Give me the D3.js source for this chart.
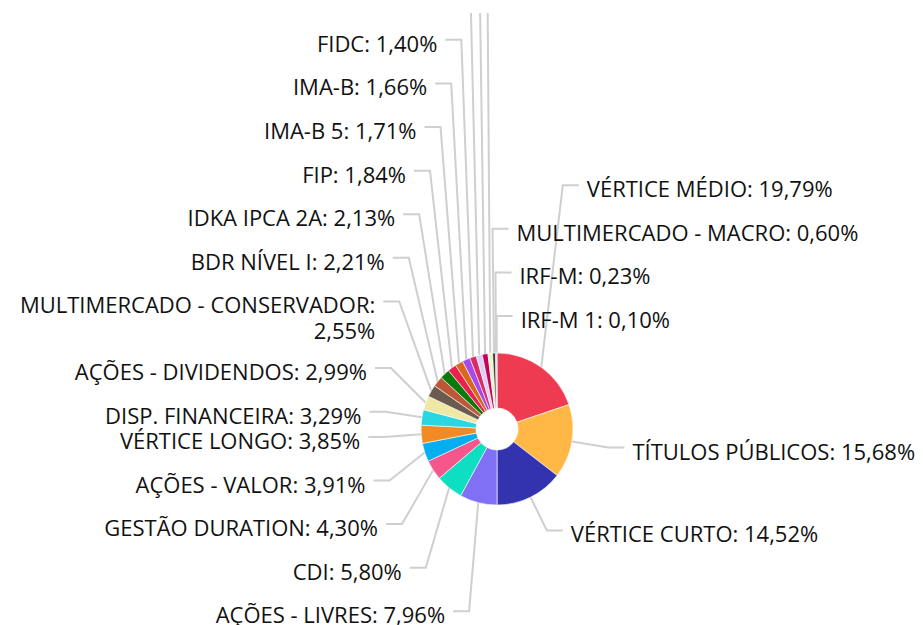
<!DOCTYPE html>
<html><head><meta charset="utf-8">
<script src="https://cdn.jsdelivr.net/npm/d3@7"></script>
<style>body{margin:0;background:#fff} svg{display:block}</style>
</head><body><svg id="chart" width="923" height="625"></svg>
<script>
const categories = ["VÉRTICE MÉDIO","TÍTULOS PÚBLICOS","VÉRTICE CURTO","AÇÕES - LIVRES","CDI","GESTÃO DURATION","AÇÕES - VALOR","VÉRTICE LONGO","DISP. FINANCEIRA","AÇÕES - DIVIDENDOS","MULTIMERCADO - CONSERVADOR","BDR NÍVEL I","IDKA IPCA 2A","FIP","IMA-B 5","IMA-B","FIDC","IMA-GERAL","IRF-M 1+","IDKA IPCA 5A","MULTIMERCADO - MACRO","IRF-M","IRF-M 1"];
const values = [19.79,15.68,14.52,7.96,5.80,4.30,3.91,3.85,3.29,2.99,2.55,2.21,2.13,1.84,1.71,1.66,1.40,1.30,1.20,0.98,0.60,0.23,0.10];
const colors = ["#EE3B52","#FFB845","#3333B0","#8070F5","#0EDEC2","#F5568C","#04AEEF","#F28B26","#2BD6E3","#EDE8A6","#6B5A4E","#BE5738","#0A7A0A","#E8214F","#D8691C","#A64AE8","#D92B67","#DCD0F5","#C4005A","#E8F5C8","#4B3232","#1BA0A0","#2A6FD8"];

const W = 923, H = 625;
const cx = 497, cy = 429, R = 76, r0 = 21;
const L = 113, seg = 16, gap = 8;
const boxH = 43.6, lineStep = 23, textLH = 26, baseOff = 12;
const plotTop = 13, fontSize = 22, topSnap = 0.06;

const data = categories.map((c, i) => ({name: c, value: values[i], color: colors[i]}));
const fmt = v => d3.format(".2f")(v).replace(".", ",") + "%";

const svg = d3.select("#chart");
svg.append("rect").attr("width", W).attr("height", H).attr("fill", "#fff");
svg.append("defs").append("clipPath").attr("id", "plot")
  .append("rect").attr("x", 0).attr("y", plotTop).attr("width", W).attr("height", H - plotTop);

const pie = d3.pie().sort(null).value(d => d.value);
const arcs = pie(data);
const arc = d3.arc().innerRadius(r0).outerRadius(R);

const lineG = svg.append("g").attr("clip-path", "url(#plot)");
const sliceG = svg.append("g").attr("transform", `translate(${cx},${cy})`);
const textG = svg.append("g")
  .attr("font-family", "'Open Sans', sans-serif").attr("font-size", fontSize).attr("fill", "#111");

sliceG.selectAll("path").data(arcs).join("path")
  .attr("d", arc).attr("fill", d => d.data.color)
  .attr("stroke", "#fff").attr("stroke-width", 0.6);

// measurement helper
const meas = textG.append("text").attr("visibility", "hidden");
const width = s => { meas.text(s); return meas.node().getComputedTextLength(); };

const labels = arcs.map(a => {
  const t = (a.startAngle + a.endAngle) / 2;
  const side = Math.sin(t) > -topSnap ? 1 : -1;
  const bx = cx + L * Math.sin(t);
  const natY = cy - L * Math.cos(t);
  const ex = cx + R * Math.sin(t), ey = cy - R * Math.cos(t);
  const tx = bx + side * (seg + gap);
  const avail = side < 0 ? tx - 10 : W - tx - 4;
  const words = (a.data.name + ": " + fmt(a.data.value)).split(" ");
  const lines = [];
  let cur = "";
  words.forEach(w => {
    const test = cur ? cur + " " + w : w;
    if (cur && width(test) > avail) { lines.push(cur); cur = w; } else cur = test;
  });
  lines.push(cur);
  return {t, side, bx, natY, ex, ey, tx, lines, h: boxH + lineStep * (lines.length - 1), y: natY};
});
meas.remove();

[1, -1].forEach(side => {
  const s = labels.filter(l => l.side === side);
  const upper = s.filter(l => l.natY < cy).sort((a, b) => side > 0 ? b.t - a.t : a.t - b.t);
  const lower = s.filter(l => l.natY >= cy).sort((a, b) => side > 0 ? a.t - b.t : b.t - a.t);
  upper.forEach((l, i) => { l.y = i === 0 ? l.natY : Math.min(l.natY, upper[i - 1].y - l.h); });
  lower.forEach((l, i) => { l.y = i === 0 ? l.natY : Math.max(l.natY, lower[i - 1].y + lower[i - 1].h); });
});

lineG.selectAll("path").data(labels).join("path")
  .attr("d", l => `M${l.ex},${l.ey}L${l.bx},${l.y}L${l.bx + l.side * seg},${l.y}`)
  .attr("fill", "none").attr("stroke", "#cfcfcf").attr("stroke-width", 2);

// labels pushed out above the plot area are hidden (their connectors stay, clipped)
const shown = labels.filter(l => l.y + baseOff >= plotTop);
textG.selectAll("text.lbl").data(shown).join("text").attr("class", "lbl")
  .attr("text-anchor", l => l.side < 0 ? "end" : "start")
  .each(function (l) {
    d3.select(this).selectAll("tspan").data(l.lines).join("tspan")
      .attr("x", l.tx).attr("y", (s, i) => l.y + baseOff + i * textLH).text(s => s);
  });
</script></body></html>
